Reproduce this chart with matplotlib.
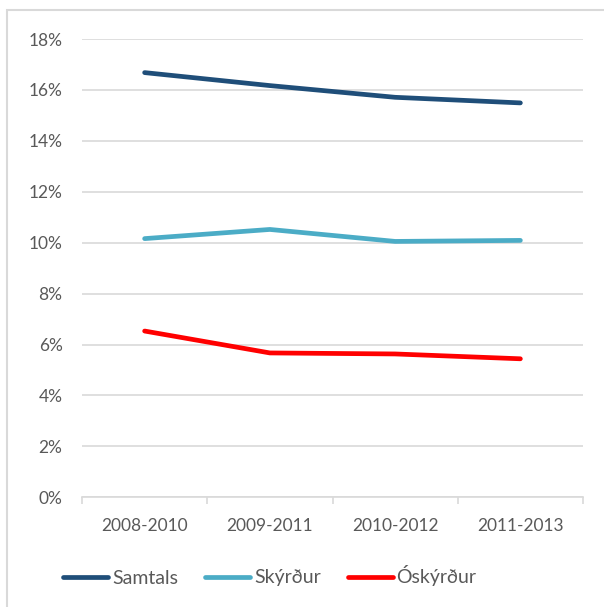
import matplotlib
matplotlib.use("Agg")
import matplotlib.pyplot as plt
from matplotlib.patches import Rectangle
from matplotlib.ticker import FuncFormatter, FixedLocator

plt.rcParams['font.family'] = ['Lato', 'DejaVu Sans']

categories = ["2008-2010", "2009-2011", "2010-2012", "2011-2013"]
samtals = [16.68, 16.17, 15.71, 15.49]
skyrdur = [10.16, 10.52, 10.05, 10.09]
oskyrdur = [6.53, 5.67, 5.63, 5.44]
series_names = ["Samtals", "Skýrður", "Óskýrður"]
colors = ["#1F4E79", "#4BACC6", "#FF0000"]
yticks = [0, 2, 4, 6, 8, 10, 12, 14, 16, 18]

W, H = 604, 607
fig = plt.figure(figsize=(W / 100, H / 100), dpi=100)
# outer chart border (cropped at right/bottom)
fig.patches.append(Rectangle((7 / W, -0.05), 1.1, 1 - 10 / H + 0.05, transform=fig.transFigure,
                             fill=False, edgecolor="#D9D9D9", linewidth=1.5))

left, right = 82 / W, 583 / W
top, bottom = 39 / H, 497.3 / H
ax = fig.add_axes([left, 1 - bottom, right - left, bottom - top])

x = list(range(len(categories)))
for vals, name, c in zip([samtals, skyrdur, oskyrdur], series_names, colors):
    ax.plot(x, vals, color=c, linewidth=3.4, solid_capstyle="round", label=name)

ax.set_xlim(-0.5, len(categories) - 0.5)
ax.set_ylim(0, 18)
ax.set_yticks(yticks)
ax.yaxis.set_major_formatter(FuncFormatter(lambda v, p: f"{v:.0f}%"))
ax.set_xticks(x)
ax.set_xticklabels(categories)
ax.xaxis.set_minor_locator(FixedLocator([i - 0.5 for i in range(len(categories) + 1)]))

ax.grid(axis="y", color="#D9D9D9", linewidth=1.2)
ax.set_axisbelow(True)
for s in ["top", "right", "left"]:
    ax.spines[s].set_visible(False)
ax.spines["bottom"].set_color("#D9D9D9")
ax.spines["bottom"].set_linewidth(1.2)

ax.tick_params(axis="y", length=0, pad=14, labelsize=12.5, labelcolor="#595959")
ax.tick_params(axis="x", which="major", length=0, pad=15, labelsize=12.5, labelcolor="#595959")
ax.tick_params(axis="x", which="minor", length=5, width=1.2, color="#D9D9D9")

leg = fig.legend(loc="center", bbox_to_anchor=(270 / W, 1 - 576 / H), ncol=3, frameon=False,
                 fontsize=14, handlelength=2.3, handletextpad=0.2, columnspacing=1.4,
                 labelcolor="#595959")
for line in leg.get_lines():
    line.set_linewidth(3.4)

fig.savefig("out.png", dpi=100)
